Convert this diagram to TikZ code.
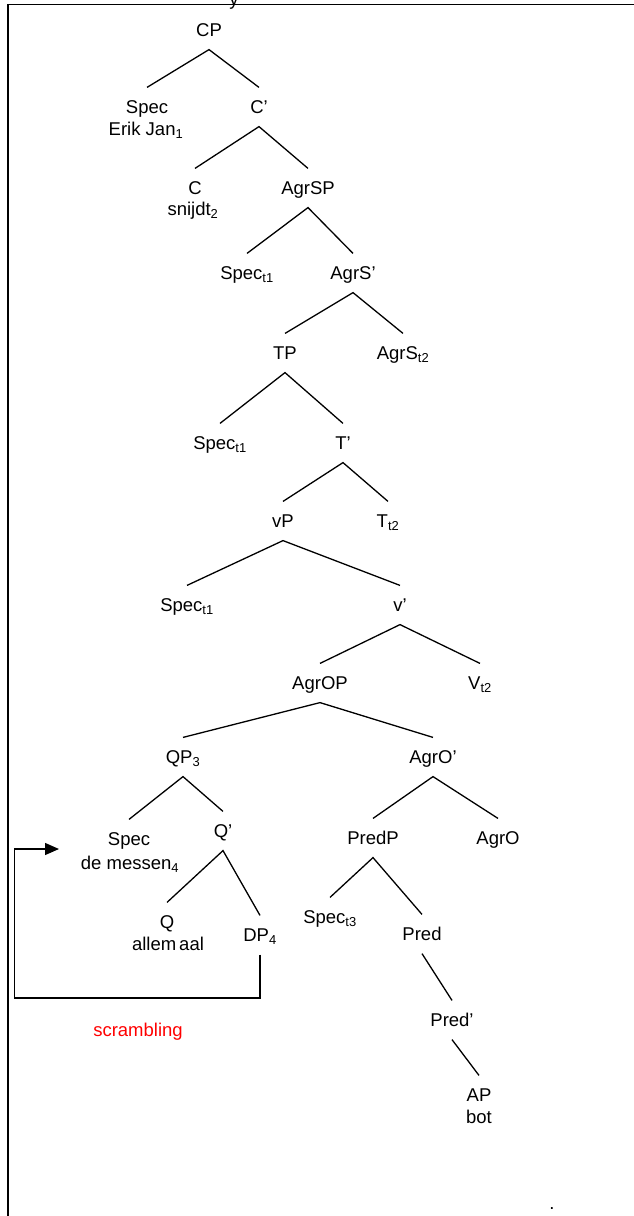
\documentclass[tikz,border=0pt]{standalone}
\usepackage{fontspec}
\setmainfont{Liberation Sans}
\usetikzlibrary{arrows.meta}
\begin{document}
\begin{tikzpicture}[x=1pt,y=-1pt,
  lab/.style={inner sep=0pt, outer ysep=13pt, text height=13.2pt, text depth=0pt,
    font=\fontsize{18.5}{21}\selectfont},
  word/.style={inner sep=0pt, text height=13.2pt, text depth=0pt,
    font=\fontsize{18.5}{21}\selectfont},
  branch/.style={line width=1.3pt},
  frame/.style={line width=1.7pt},
  move/.style={line width=1.3pt, -{Triangle[length=14pt,width=12pt]}},
]
\useasboundingbox (0,0) rectangle (633,1216);

% frame and the tail of the heading above it
\node[word, anchor=base] (head) at (234,5.5) {y};
\draw[frame] (8,1220) -- (8,4.5) -- (640,4.5);

% labels
\node[lab] (cp)      at (209,30)  {CP};
\node[lab] (spec1)   at (147,107) {Spec};
\node[word] (erik)   at (146,129) {Erik Jan\textsubscript{1}};
\node[lab] (cbar)    at (259,107) {C’};
\node[lab] (c)       at (195,188) {C};
\node[word] (snijdt) at (193,209) {snijdt\textsubscript{2}};
\node[lab] (agrsp)   at (308,188) {AgrSP};
\node[lab] (spec2)   at (247,273) {Spec\textsubscript{t1}};
\node[lab] (agrsbar) at (353,273) {AgrS’};
\node[lab] (tp)      at (285,353) {TP};
\node[lab] (agrs)    at (403,353) {AgrS\textsubscript{t2}};
\node[lab] (spec3)   at (220,443) {Spec\textsubscript{t1}};
\node[lab] (tbar)    at (343,443) {T’};
\node[lab] (vp)      at (283,521) {vP};
\node[lab] (t)       at (388,521) {T\textsubscript{t2}};
\node[lab] (spec4)   at (187,605) {Spec\textsubscript{t1}};
\node[lab] (vbar)    at (400,605) {v’};
\node[lab] (agrop)   at (320,683) {AgrOP};
\node[lab] (v)       at (480,683) {V\textsubscript{t2}};
\node[lab] (qp)      at (183,757) {QP\textsubscript{3}};
\node[lab] (agrobar) at (433,757) {AgrO’};
\node[lab] (spec5)   at (129,839) {Spec};
\node[word] (messen) at (130,863) {de messen\textsubscript{4}};
\node[lab] (qbar)    at (223,831) {Q’};
\node[lab] (predp)   at (373,838) {PredP};
\node[lab] (agro)    at (498,838) {AgrO};
\node[lab] (spec6)   at (330,917) {Spec\textsubscript{t3}};
\node[lab] (pred)    at (422,934) {Pred};
\node[lab] (q)       at (167,922) {Q};
\node[word] (allem)  at (168,944) {allem\kern3pt aal};
\node[lab] (dp)      at (260,935) {DP\textsubscript{4}};
\node[lab] (predbar) at (452,1020) {Pred’};
\node[lab] (ap)      at (479,1095) {AP};
\node[word] (bot)    at (479,1117) {bot};
\node[word, text=red] (scr) at (138,1030) {scrambling};
\node[word, anchor=base] (dot) at (552,1209.5) {.};

% branches
\draw[branch] (spec1.north) -- (cp.south) -- (cbar.north);
\draw[branch] (c.north) -- (cbar.south) -- (agrsp.north);
\draw[branch] (spec2.north) -- (agrsp.south) -- (agrsbar.north);
\draw[branch] (tp.north) -- (agrsbar.south) -- (agrs.north);
\draw[branch] (spec3.north) -- (tp.south) -- (tbar.north);
\draw[branch] (vp.north) -- (tbar.south) -- (t.north);
\draw[branch] (spec4.north) -- (vp.south) -- (vbar.north);
\draw[branch] (agrop.north) -- (vbar.south) -- (v.north);
\draw[branch] (qp.north) -- (agrop.south) -- (agrobar.north);
\draw[branch] (spec5.north) -- (qp.south) -- (qbar.north);
\draw[branch] (predp.north) -- (agrobar.south) -- (agro.north);
\draw[branch] (q.north) -- (qbar.south) -- (dp.north);
\draw[branch] (spec6.north) -- (predp.south) -- (pred.north);
\draw[branch] (pred.south) -- (predbar.north);
\draw[branch] (predbar.south) -- (ap.north);

% scrambling movement
\coordinate (turn) at (14.3,998);
\coordinate (tip)  at (59,849);
\draw[move] (dp.south) |- (turn) |- (tip);
\end{tikzpicture}
\end{document}
